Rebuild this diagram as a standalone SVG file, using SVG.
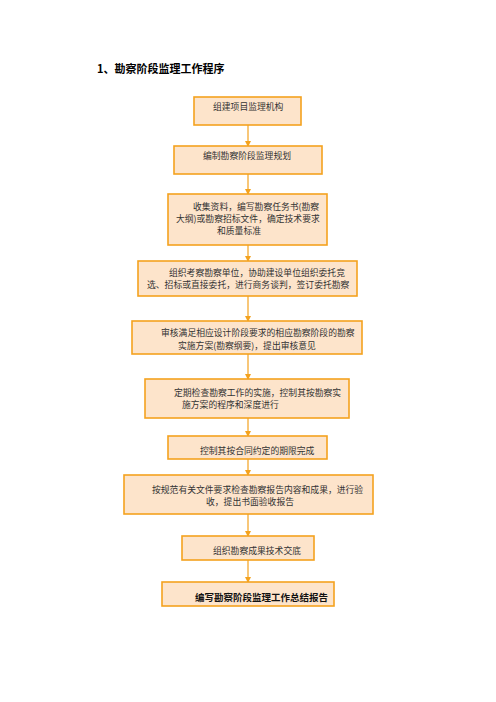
<svg xmlns="http://www.w3.org/2000/svg" width="496" height="702" viewBox="0 0 496 702">
<defs>
<style>
.box{fill:#FDE4CB;stroke:#F4A21E;stroke-width:1.6}
.t{font-family:"Noto Sans CJK SC","Liberation Serif",serif;font-size:8.8px;fill:#333}
.tb{font-family:"Noto Sans CJK SC","Liberation Sans",sans-serif;font-size:9.5px;fill:#111;font-weight:bold}
.title{font-family:"Noto Sans CJK SC","Liberation Sans",sans-serif;font-size:11px;font-weight:bold;fill:#000}
.c{stroke:#F4A21E;stroke-width:1.2;fill:none;marker-end:url(#ah)}
</style>
<marker id="ah" markerWidth="6" markerHeight="6" refX="5" refY="3" orient="auto" markerUnits="userSpaceOnUse">
<path d="M0,0 L6,3 L0,6 z" fill="#F4A21E"/>
</marker>
</defs>
<rect width="496" height="702" fill="#fff"/>
<text class="title" x="97" y="73">1、勘察阶段监理工作程序</text>
<g id="connectors">
<line class="c" x1="248" y1="125" x2="248" y2="146"/>
<line class="c" x1="248" y1="174" x2="248" y2="194"/>
<line class="c" x1="248" y1="245" x2="248" y2="261"/>
<line class="c" x1="248" y1="296" x2="248" y2="321"/>
<line class="c" x1="248" y1="354" x2="248" y2="379"/>
<line class="c" x1="248" y1="418" x2="248" y2="436"/>
<line class="c" x1="248" y1="459" x2="248" y2="475"/>
<line class="c" x1="248" y1="514" x2="248" y2="536"/>
<line class="c" x1="248" y1="560" x2="248" y2="582"/>
</g>
<g id="n1"><rect class="box" x="194" y="97" width="107" height="28"/><text class="t" x="213" y="110">组建项目监理机构</text></g>
<g id="n2"><rect class="box" x="174" y="146" width="148" height="28"/><text class="t" x="203" y="159">编制勘察阶段监理规划</text></g>
<g id="n3"><rect class="box" x="168" y="194" width="159" height="51"/>
<text class="t" x="193" y="210">收集资料，编写勘察任务书(勘察</text>
<text class="t" x="176" y="222">大纲)或勘察招标文件，确定技术要求</text>
<text class="t" x="217" y="234">和质量标准</text></g>
<g id="n4"><rect class="box" x="138" y="261" width="219" height="35"/>
<text class="t" x="169" y="276">组织考察勘察单位，协助建设单位组织委托竞</text>
<text class="t" x="147" y="288">选、招标或直接委托，进行商务谈判，签订委托勘察</text></g>
<g id="n5"><rect class="box" x="132" y="321" width="230" height="33"/>
<text class="t" x="161" y="336">审核满足相应设计阶段要求的相应勘察阶段的勘察</text>
<text class="t" x="178" y="349">实施方案(勘察纲要)，提出审核意见</text></g>
<g id="n6"><rect class="box" x="145" y="379" width="204" height="39"/>
<text class="t" x="174" y="396">定期检查勘察工作的实施，控制其按勘察实</text>
<text class="t" x="182" y="408">施方案的程序和深度进行</text></g>
<g id="n7"><rect class="box" x="168" y="436" width="159" height="23"/><text class="t" x="200" y="454">控制其按合同约定的期限完成</text></g>
<g id="n8"><rect class="box" x="124" y="475" width="249" height="39"/>
<text class="t" x="152" y="493">按规范有关文件要求检查勘察报告内容和成果，进行验</text>
<text class="t" x="206" y="505">收，提出书面验收报告</text></g>
<g id="n9"><rect class="box" x="182" y="536" width="132" height="24"/><text class="t" x="213" y="554">组织勘察成果技术交底</text></g>
<g id="n10"><rect class="box" x="162" y="582" width="172" height="24"/><text class="tb" x="195" y="601">编写勘察阶段监理工作总结报告</text></g>
</svg>
